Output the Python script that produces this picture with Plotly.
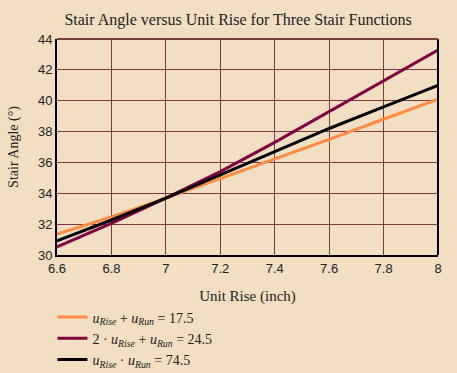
import plotly.graph_objects as go

unit_rise = [6.6, 6.8, 7.0, 7.2, 7.4, 7.6, 7.8, 8.0]
angle_sum = [31.35, 32.47, 33.69, 34.95, 36.2, 37.5, 38.8, 40.1]
angle_double = [30.52, 32.05, 33.69, 35.4, 37.3, 39.3, 41.3, 43.28]
angle_product = [30.92, 32.27, 33.69, 35.18, 36.7, 38.2, 39.6, 41.0]

series_names = [
    "<i>u</i><sub><i>Rise</i></sub> + <i>u</i><sub><i>Run</i></sub> = 17.5",
    "2 · <i>u</i><sub><i>Rise</i></sub> + <i>u</i><sub><i>Run</i></sub> = 24.5",
    "<i>u</i><sub><i>Rise</i></sub> · <i>u</i><sub><i>Run</i></sub> = 74.5",
]
series_colors = ["#FF8C40", "#800040", "#000000"]

x_ticks = [6.6, 6.8, 7.0, 7.2, 7.4, 7.6, 7.8, 8.0]
x_tick_labels = ["6.6", "6.8", "7", "7.2", "7.4", "7.6", "7.8", "8"]
y_ticks = [30, 32, 34, 36, 38, 40, 42, 44]

bg = "#F1DEC3"
grid = "#7A3A40"
serif = "Liberation Serif, DejaVu Serif, serif"
sans = "Liberation Sans, Arial, sans-serif"

fig = go.Figure()
for vals, name, col in zip([angle_sum, angle_double, angle_product], series_names, series_colors):
    fig.add_trace(go.Scatter(x=unit_rise, y=vals, mode="lines", name=name,
                             line=dict(color=col, width=3)))

fig.update_layout(
    width=457, height=373,
    paper_bgcolor=bg, plot_bgcolor=bg,
    margin=dict(l=57, r=19, t=39, b=118, autoexpand=False),
    title=dict(text="Stair Angle versus Unit Rise for Three Stair Functions",
               x=238 / 457, xanchor="center", y=1 - 19 / 373, yanchor="middle",
               font=dict(family=serif, size=16, color="#222222")),
    xaxis=dict(range=[6.6, 8.0], tickvals=x_ticks, ticktext=x_tick_labels,
               showgrid=True, gridcolor=grid, gridwidth=1,
               showline=True, linecolor="#000000", linewidth=2, mirror=False,
               zeroline=False, ticks="", ticklen=0,
               tickfont=dict(family=sans, size=13, color="#222222"),
               title=dict(text="Unit Rise (inch)", standoff=16,
                          font=dict(family=serif, size=15, color="#222222"))),
    yaxis=dict(range=[30, 44], tickvals=y_ticks,
               showgrid=True, gridcolor=grid, gridwidth=1,
               showline=True, linecolor="#000000", linewidth=2,
               zeroline=False, ticks="", ticklen=0,
               tickfont=dict(family=sans, size=13, color="#222222"),
               title=dict(text="Stair Angle (°)", standoff=16,
                          font=dict(family=serif, size=14, color="#222222"))),
    legend=dict(x=-0.012, xanchor="left", y=-0.215, yanchor="top",
                bgcolor="rgba(0,0,0,0)", tracegroupgap=0, itemwidth=30,
                font=dict(family=serif, size=14, color="#222222")),
    showlegend=True,
)
# right and top frame
fig.add_shape(type="line", xref="paper", yref="paper", x0=1, x1=1, y0=0, y1=1,
              line=dict(color="#000000", width=2))
fig.add_shape(type="line", xref="paper", yref="paper", x0=0, x1=1, y0=1, y1=1,
              line=dict(color=grid, width=2))

fig.write_html(
    "out.html",
    config={"displayModeBar": False},
    post_script="document.body.style.margin='0';document.body.style.overflow='hidden';",
)
